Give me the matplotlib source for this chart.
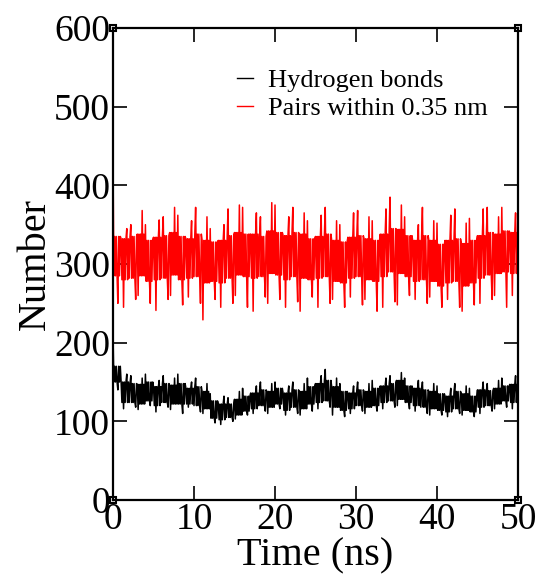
import matplotlib
matplotlib.use("Agg")
import matplotlib.pyplot as plt
import numpy as np

# time axis (ns), one reading per ns
time_ns = list(range(0, 51))

# Pairs within 0.35 nm: spike top, upper core, lower core, spike bottom (read per ns)
pairs_hi = [430, 345, 350, 368, 350, 356, 360, 372, 362, 355, 372, 360, 345, 350, 370, 375, 372,
            365, 360, 378, 375, 360, 372, 365, 355, 362, 372, 355, 350, 365, 368, 360, 355, 370,
            385, 375, 360, 350, 372, 355, 352, 362, 370, 352, 358, 370, 372, 360, 372, 365, 355]
pairs_cu = [335, 332, 335, 338, 330, 334, 336, 340, 335, 332, 338, 330, 328, 330, 336, 340, 338,
            338, 335, 342, 340, 336, 340, 338, 332, 335, 338, 330, 328, 334, 336, 332, 330, 338,
            345, 344, 336, 330, 336, 330, 325, 330, 332, 326, 330, 336, 340, 338, 342, 340, 336]
pairs_cl = [285, 280, 282, 285, 278, 280, 282, 286, 280, 282, 284, 276, 278, 276, 282, 286, 284,
            282, 284, 288, 286, 280, 284, 282, 280, 282, 284, 278, 276, 282, 284, 280, 278, 284,
            290, 288, 284, 278, 280, 278, 272, 276, 278, 272, 276, 282, 286, 288, 290, 288, 284]
pairs_lo = [250, 245, 255, 260, 250, 241, 255, 260, 248, 258, 250, 229, 255, 245, 250, 260, 245,
            240, 258, 250, 255, 245, 252, 240, 258, 245, 250, 255, 245, 258, 248, 255, 240, 245,
            252, 248, 260, 255, 250, 258, 245, 255, 245, 240, 248, 250, 255, 260, 245, 260, 270]

# Hydrogen bonds: spike top, upper core, lower core, spike bottom (read per ns)
hb_hi = [210, 160, 158, 155, 160, 152, 158, 155, 160, 150, 155, 148, 135, 132, 130, 138, 142,
         145, 150, 148, 150, 145, 150, 148, 155, 158, 166, 155, 148, 145, 150, 148, 152, 155,
         158, 162, 155, 152, 150, 148, 145, 142, 148, 145, 142, 150, 148, 152, 155, 158, 155]
hb_cu = [170, 150, 148, 147, 150, 144, 148, 146, 148, 142, 144, 138, 126, 122, 122, 128, 132,
         136, 140, 138, 142, 136, 140, 138, 144, 148, 152, 144, 138, 136, 140, 138, 142, 145,
         148, 152, 145, 142, 140, 138, 135, 132, 138, 135, 132, 140, 139, 142, 145, 147, 145]
hb_cl = [150, 124, 124, 122, 126, 120, 124, 122, 122, 122, 120, 116, 104, 102, 105, 108, 113,
         116, 120, 118, 122, 114, 118, 116, 122, 124, 126, 118, 114, 116, 120, 118, 120, 124,
         126, 128, 124, 120, 118, 116, 114, 112, 116, 114, 112, 118, 120, 122, 126, 124, 126]
hb_lo = [140, 116, 118, 115, 120, 112, 118, 115, 110, 118, 112, 110, 98, 96, 100, 103, 108,
         110, 113, 110, 116, 108, 110, 108, 113, 116, 118, 108, 106, 110, 113, 110, 113, 116,
         118, 120, 116, 113, 110, 108, 108, 106, 110, 108, 106, 110, 113, 116, 118, 116, 118]

# order in which the readings are visited inside one ns (0=top,1=upper core,2=lower core,3=bottom)
orders = [[0, 2, 1, 2, 1, 2, 3, 1, 2, 1],
          [1, 2, 1, 3, 1, 2, 1, 0, 2, 1],
          [2, 1, 0, 2, 1, 2, 1, 2, 3, 1],
          [1, 3, 1, 2, 1, 2, 0, 2, 1, 2]]


def dense_trace(hi, cu, cl, lo):
    t, v = [], []
    for i in range(len(time_ns) - 1):
        vals = [hi[i], cu[i], cl[i], lo[i]]
        order = orders[i % len(orders)]
        step = 1.0 / len(order)
        for k, idx in enumerate(order):
            t.append(time_ns[i] + k * step)
            v.append(vals[idx])
    t.append(time_ns[-1])
    v.append(cu[-1])
    return np.array(t), np.array(v)


plt.rcParams['font.family'] = ['Liberation Serif', 'DejaVu Serif']

fig = plt.figure(figsize=(5.41, 5.81), dpi=100)
ax = fig.add_axes([0.2089, 0.1394, 0.7486, 0.8124])

t_hb, v_hb = dense_trace(hb_hi, hb_cu, hb_cl, hb_lo)
t_pr, v_pr = dense_trace(pairs_hi, pairs_cu, pairs_cl, pairs_lo)
ax.plot(t_hb, v_hb, color='black', lw=1.1, label='Hydrogen bonds')
ax.plot(t_pr, v_pr, color='red', lw=1.1, label='Pairs within 0.35 nm')

ax.set_xlim(0, 50)
ax.set_ylim(0, 600)
ax.set_xticks(range(0, 51, 10))
ax.set_yticks(range(0, 601, 100))
ax.tick_params(direction='in', length=10, width=1.2, top=True, right=True,
               labelsize=27, pad=2)
for s in ax.spines.values():
    s.set_linewidth(1.6)

ax.set_xlabel('Time (ns)', fontsize=29, labelpad=0)
ax.set_ylabel('Number', fontsize=29, labelpad=0)

# small corner squares like the xmgrace output
ax.plot([0, 1, 0, 1], [0, 0, 1, 1], 's', ms=4, mfc='white', mec='black', mew=1.5,
        transform=ax.transAxes, clip_on=False)

leg = ax.legend(loc='upper right', bbox_to_anchor=(0.985, 0.965), frameon=False,
                fontsize=19, handlelength=0.6, handletextpad=0.6, labelspacing=0.2)
for h in leg.legend_handles:
    h.set_linewidth(1.0)

fig.savefig('out.png', dpi=100)
